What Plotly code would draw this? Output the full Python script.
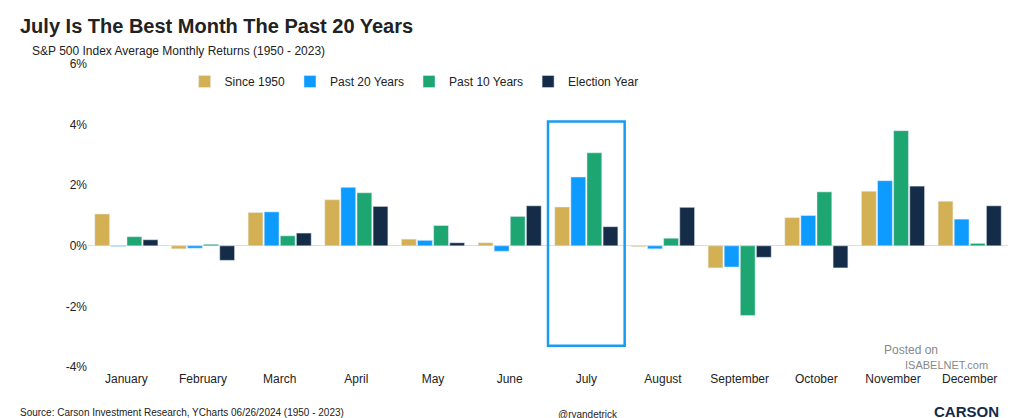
import plotly.graph_objects as go

months = ["January","February","March","April","May","June","July","August","September","October","November","December"]
since_1950 = [1.05,-0.10,1.10,1.52,0.22,0.10,1.28,-0.03,-0.73,0.93,1.80,1.47]
past_20 = [-0.02,-0.08,1.12,1.93,0.18,-0.18,2.27,-0.10,-0.70,1.00,2.15,0.88]
past_10 = [0.30,0.05,0.33,1.75,0.67,0.97,3.07,0.25,-2.30,1.78,3.80,0.08]
election = [0.20,-0.48,0.42,1.30,0.10,1.32,0.63,1.27,-0.38,-0.73,1.97,1.32]
y_ticks = [-4, -2, 0, 2, 4, 6]
y_tick_labels = ["-4%", "-2%", "0%", "2%", "4%", "6%"]

series = [("Since 1950", since_1950, "#D4B055"), ("Past 20 Years", past_20, "#0D9BFF"),
          ("Past 10 Years", past_10, "#1EA672"), ("Election Year", election, "#142C48")]

fig = go.Figure()
for name, vals, col in series:
    fig.add_trace(go.Bar(x=months, y=vals, name=name, marker_color=col))

fig.add_shape(type="rect", xref="x", yref="y", x0=5.5, x1=6.5, y0=-3.3, y1=4.1,
              line=dict(color="#1A9BF0", width=2.5), fillcolor="rgba(0,0,0,0)")

W, H = 1024, 418
L, R, T, B = 80, 24, 56, 59
fig.update_layout(
    width=W, height=H, barmode="group", bargap=0.16, bargroupgap=0.08,
    paper_bgcolor="white", plot_bgcolor="white",
    font=dict(family="Liberation Sans, Arial", color="#222"),
    margin=dict(l=L, r=R, t=T, b=B),
    legend=dict(orientation="h", x=0.105, y=0.99, xanchor="left", yanchor="top",
                font=dict(size=12), itemwidth=30, bgcolor="rgba(0,0,0,0)"),
    xaxis=dict(showgrid=False, ticks="", tickfont=dict(size=12), ticklabelstandoff=3),
    yaxis=dict(range=[-4, 6], tickvals=y_ticks, ticktext=y_tick_labels,
               showgrid=False, zeroline=True, zerolinecolor="#dddddd", zerolinewidth=1,
               tickfont=dict(size=12)),
)
pw, ph = W-L-R, H-T-B
def px(xp): return (xp-L)/pw
def py(yp): return (H-B-yp)/ph
def ann(text, x, y, size, xanchor="left", color="#222", bold=False):
    fig.add_annotation(text=f"<b>{text}</b>" if bold else text, xref="paper", yref="paper",
                       x=px(x), y=py(y), xanchor=xanchor, yanchor="middle", showarrow=False,
                       font=dict(size=size, color=color))
ann("July Is The Best Month The Past 20 Years", 10, 18, 20, bold=True)
ann("S&P 500 Index Average Monthly Returns (1950 - 2023)", 22, 43, 12)
ann("Source: Carson Investment Research, YCharts 06/26/2024 (1950 - 2023)", 10, 404, 10)
ann("@ryandetrick", 580, 406, 10, xanchor="center")
ann("Posted on", 874, 342, 12, color="#888")
ann("ISABELNET.com", 895, 357, 11, color="#888")
ann("CARSON", 924, 403, 15, color="#142C48", bold=True)
fig.write_html("out.html")
